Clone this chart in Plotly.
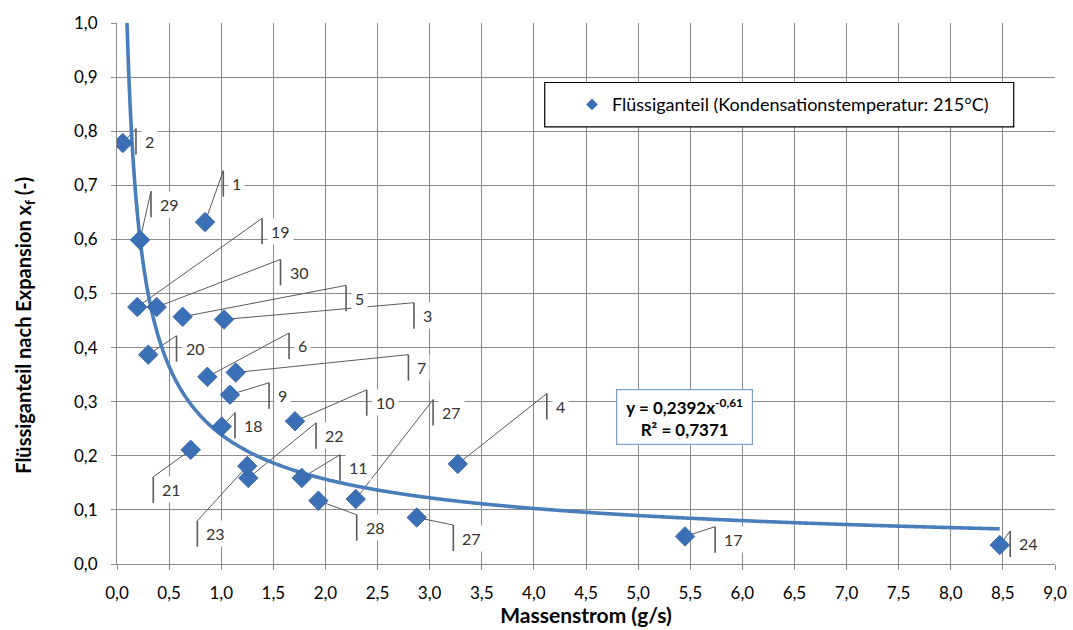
import numpy as np
import plotly.graph_objects as go

# Messpunkte: Massenstrom (g/s) und Flüssiganteil nach Expansion x_f (-)
versuch = ["2", "1", "29", "19", "30", "5", "3", "20", "6", "7", "9", "18",
           "10", "21", "22", "23", "11", "28", "27", "27", "4", "17", "24"]
massenstrom = [0.055, 0.845, 0.221, 0.195, 0.381, 0.630, 1.027, 0.300, 0.867,
               1.139, 1.084, 1.005, 1.708, 0.707, 1.260, 1.250, 1.773, 1.932,
               2.291, 2.876, 3.270, 5.450, 8.470]
fluessiganteil = [0.778, 0.632, 0.599, 0.475, 0.475, 0.457, 0.452, 0.387,
                  0.346, 0.354, 0.313, 0.254, 0.264, 0.211, 0.159, 0.181,
                  0.159, 0.117, 0.120, 0.086, 0.185, 0.051, 0.035]

# Lage der Datenbeschriftungen (Oberkante der Führungsklammer, Achseneinheiten)
label_x = [0.182, 1.020, 0.326, 1.392, 1.569, 2.198, 2.850, 0.571, 1.651,
           2.796, 1.459, 1.132, 2.396, 0.348, 1.910, 0.771, 2.140, 2.300,
           3.033, 3.227, 4.124, 5.739, 8.570]
label_y = [0.805, 0.727, 0.689, 0.639, 0.563, 0.515, 0.483, 0.422, 0.427,
           0.387, 0.335, 0.280, 0.322, 0.161, 0.261, 0.080, 0.202, 0.091,
           0.304, 0.072, 0.315, 0.069, 0.061]

# Potenz-Trendlinie y = a * x^b
trend_a = 0.2392
trend_b = -0.61
trend_r2 = 0.7371

x_ticks = [i * 0.5 for i in range(19)]
y_ticks = [i * 0.1 for i in range(11)]

SERIES_NAME = "Flüssiganteil (Kondensationstemperatur: 215°C)"
FONT = "Lato"
GRID = "#8c8c8c"
BLUE = "#3b70b7"
LINE_BLUE = "#4a7ebb"
LEADER = "#5a5a5a"
BRACKET = 0.048

fig = go.Figure()

xs = np.linspace(min(massenstrom), max(massenstrom), 600)
ys = trend_a * xs ** trend_b
fig.add_trace(go.Scatter(
    x=xs, y=ys, mode="lines", showlegend=False, hoverinfo="skip",
    line=dict(color=LINE_BLUE, width=3.6, shape="spline"),
))

fig.add_trace(go.Scatter(
    x=massenstrom, y=fluessiganteil, mode="markers",
    name=SERIES_NAME, text=versuch, showlegend=False, legendgroup="xf",
    marker=dict(symbol="diamond", size=15, color=BLUE,
                line=dict(color="#2f5f9f", width=0.8)),
))
# legend entry with the smaller key symbol
fig.add_trace(go.Scatter(
    x=[None], y=[None], mode="markers", name=SERIES_NAME, legendgroup="xf",
    marker=dict(symbol="diamond", size=9, color=BLUE),
))

shapes = []
annotations = []
for px, py, lx, ly, txt in zip(massenstrom, fluessiganteil, label_x, label_y, versuch):
    shapes.append(dict(type="line", xref="x", yref="y", x0=px, y0=py, x1=lx, y1=ly,
                       line=dict(color=LEADER, width=1), layer="between"))
    shapes.append(dict(type="line", xref="x", yref="y", x0=lx, y0=ly, x1=lx,
                       y1=ly - BRACKET, line=dict(color=LEADER, width=1.6),
                       layer="between"))
    annotations.append(dict(
        x=lx, y=ly - BRACKET / 2, xref="x", yref="y", text=txt, showarrow=False,
        xanchor="left", yanchor="middle", xshift=5, bgcolor="white", borderpad=3,
        font=dict(family=FONT, size=16, color="#333333"),
    ))

# Rahmen der Legende
shapes.append(dict(type="rect", xref="paper", yref="paper", x0=0.456, x1=0.956,
                   y0=0.808, y1=0.890, fillcolor="white",
                   line=dict(color="#000000", width=1.2), layer="above"))

# Gleichung der Trendlinie
annotations.append(dict(
    x=(684.5 - 117) / 938, y=1 - (445 - 23.5) / 540.5,
    xref="paper", yref="paper",
    text=f"y = {trend_a:.4f}x<sup>{trend_b:.2f}</sup><br>R² = {trend_r2:.4f}".replace(".", ","),
    showarrow=False, bgcolor="white", bordercolor="#7a9fcf", borderwidth=1.2,
    width=133, height=52, align="center",
    font=dict(family=FONT, size=17, color="#000000", weight="bold"),
))

# Titel der y-Achse
annotations.append(dict(
    x=(25 - 117) / 938, y=1 - (326 - 23.5) / 540.5, xref="paper", yref="paper",
    text="Flüssiganteil nach Expansion x<sub>f</sub> (-)", textangle=-90,
    showarrow=False, xanchor="center", yanchor="middle",
    font=dict(family=FONT, size=20, color="#000000", weight="bold"),
))

fig.update_layout(
    width=1073, height=630,
    margin=dict(l=117, r=18, t=23, b=66),
    paper_bgcolor="white", plot_bgcolor="white",
    separators=",.",
    font=dict(family=FONT, size=17, color="#000000"),
    showlegend=True,
    legend=dict(x=(572 - 117) / 938, y=0.849, xanchor="left", yanchor="middle",
                bgcolor="rgba(0,0,0,0)", borderwidth=0, itemsizing="trace",
                font=dict(family=FONT, size=18, color="#000000")),
    shapes=shapes,
    annotations=annotations,
)

fig.update_xaxes(
    range=[0, 9], tickvals=x_ticks, tickformat=".1f", automargin=False,
    showgrid=True, gridcolor=GRID, gridwidth=1,
    showline=True, linecolor=GRID, linewidth=1.2,
    ticks="outside", ticklen=5, tickcolor=GRID, ticklabelstandoff=8,
    tickfont=dict(family=FONT, size=17, color="#000000"),
    zeroline=False,
    title=dict(text="Massenstrom (g/s)", standoff=6,
               font=dict(family=FONT, size=21, color="#000000", weight="bold")),
)
fig.update_yaxes(
    range=[0, 1], tickvals=y_ticks, tickformat=".1f", automargin=False,
    showgrid=True, gridcolor=GRID, gridwidth=1,
    showline=True, linecolor=GRID, linewidth=1.2,
    ticks="outside", ticklen=5, tickcolor=GRID, ticklabelstandoff=10,
    tickfont=dict(family=FONT, size=17, color="#000000"),
    zeroline=False,
)

fig.write_html("out.html")
